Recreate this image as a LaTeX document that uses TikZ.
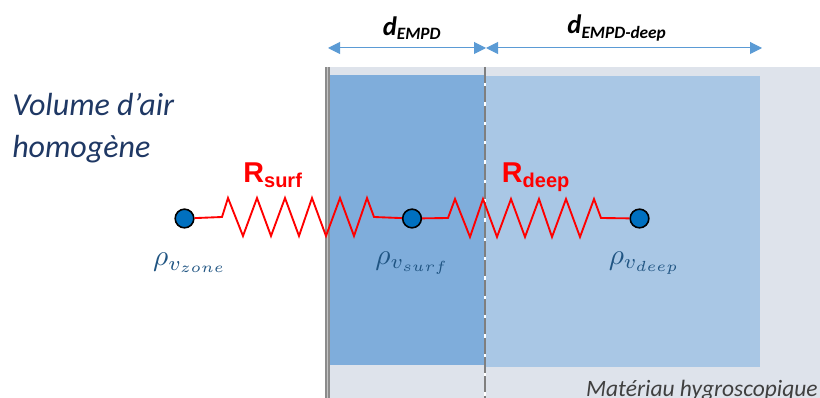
\documentclass[tikz,border=0pt]{standalone}
\usepackage{fontspec}
\setmainfont{Carlito}
\newfontfamily\arialf{Liberation Sans}
\usetikzlibrary{arrows.meta}
\definecolor{matbg}{HTML}{DEE3EB}
\definecolor{surfblue}{HTML}{7FADDB}
\definecolor{deepblue}{HTML}{A9C7E5}
\definecolor{arrowblue}{HTML}{5B9BD5}
\definecolor{dotblue}{HTML}{0070C0}
\definecolor{titleblue}{HTML}{1F3864}
\definecolor{rholabel}{HTML}{1F5482}
\definecolor{wallgrey}{HTML}{8C8C8C}
\definecolor{walllight}{HTML}{C4C4C4}
\definecolor{midgrey}{HTML}{7F7F7F}
\definecolor{textgrey}{HTML}{404040}
\tikzset{
  x=0.75pt,y=-0.75pt,
  dot/.style={circle,draw=black,fill=dotblue,line width=1.2pt,minimum size=14pt,inner sep=0pt},
  res/.style={draw=red,line width=1.4pt,line join=miter},
  dim/.style={draw=arrowblue,line width=0.75pt,{Triangle[length=9pt,width=9pt]}-{Triangle[length=9pt,width=9pt]}},
  rho/.style={text=rholabel,inner sep=0pt},
  rlabel/.style={text=red,font=\arialf\bfseries\fontsize{21.5}{24}\selectfont,inner sep=0pt},
  dimlabel/.style={text=black,font=\bfseries\itshape,inner sep=0pt},
  title/.style={text=titleblue,anchor=base west,font=\itshape\fontsize{24}{28}\selectfont,inner sep=0pt}
}
\newcommand{\rholab}[1]{\scalebox{2.2}{$\rho_{v_{#1}}$}}
\begin{document}
\begin{tikzpicture}
\useasboundingbox (0,0) rectangle (820,398);
\fill[white] (0,0) rectangle (820,398);
\fill[matbg] (330,67) rectangle (820,398);
\fill[surfblue] (330,75) rectangle (485,365);
\fill[deepblue] (485,76) rectangle (760,367);
\fill[wallgrey] (325,67) rectangle (330,398);
\draw[walllight,line width=0.6pt] (327.6,67) -- (327.6,398);
\draw[white,line width=1.5pt] (485,67) -- (485,398);
\draw[midgrey,line width=1.5pt,dash pattern=on 12pt off 2.5pt] (485,67) -- (485,398);
\coordinate (ltick) at (328,48);
\coordinate (mtick) at (486,48);
\coordinate (rtick) at (762,48);
\draw[dim] (ltick) -- (mtick);
\draw[dim] (mtick) -- (rtick);
\node[dimlabel] (dempd) at (412,28) {\fontsize{20}{24}\selectfont d\textsubscript{\fontsize{13}{16}\selectfont EMPD}};
\node[dimlabel] (ddeep) at (617,28) {\fontsize{20}{24}\selectfont d\textsubscript{\fontsize{13}{16}\selectfont EMPD-deep}};
\node[title] (t1) at (12,116) {Volume d’air};
\node[title] (t2) at (12,158) {homogène};
\node[dot] (zone) at (184.5,218.5) {};
\node[dot] (surf) at (412,218.5) {};
\node[dot] (deep) at (639.5,218.5) {};
\draw[res] (zone) -- (222,217) -- (228,198) -- (243,236) -- (257,198) -- (271,236) -- (285,198) -- (299,236) -- (312,198) -- (326,236) -- (340,198) -- (354,236) -- (367,198) -- (374,217) -- (surf);
\draw[res] (surf) -- (448,218) -- (455,199) -- (470,237) -- (483,199) -- (497,237) -- (511,199) -- (525,237) -- (539,199) -- (552,237) -- (566,199) -- (580,237) -- (594,199) -- (601,218) -- (deep);
\node[rlabel] (rs) at (273,175) {R\textsubscript{\fontsize{15}{18}\selectfont surf}};
\node[rlabel] (rd) at (536,177) {R\textsubscript{\fontsize{15}{18}\selectfont deep}};
\node[rho] (lz) at (190,263) {\rholab{zone}};
\node[rho] (ls) at (412.5,263) {\rholab{surf}};
\node[rho] (ld) at (644.5,263) {\rholab{deep}};
\node[anchor=base east,inner sep=0pt,text=textgrey,font=\itshape\fontsize{17.6}{20}\selectfont] (mat) at (818,396.5) {Matériau hygroscopique};
\end{tikzpicture}
\end{document}
